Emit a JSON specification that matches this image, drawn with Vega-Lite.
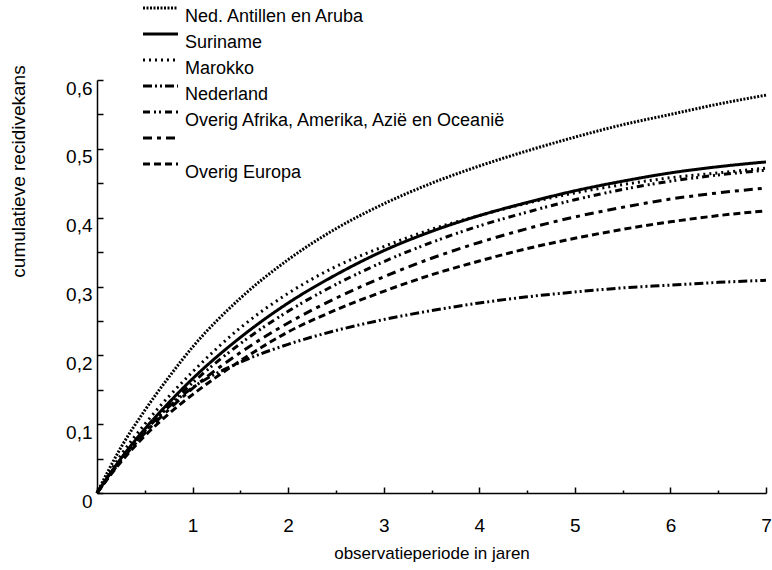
{
  "$schema": "https://vega.github.io/schema/vega-lite/v6.json",
  "width": 669,
  "height": 413,
  "autosize": {"type": "none"},
  "padding": {"left": 97, "top": 80, "right": 6, "bottom": 77},
  "background": "white",
  "config": {
    "view": {"stroke": null},
    "font": "Liberation Sans",
    "axis": {"labelFont": "Liberation Sans", "titleFont": "Liberation Sans", "titleFontWeight": "normal", "labelColor": "black", "titleColor": "black", "domainColor": "black", "tickColor": "black", "domainWidth": 1.5, "tickWidth": 1.5, "grid": false}
  },
  "data": {
    "values": [
      {"t": 0, "kans": 0, "groep": "Ned. Antillen en Aruba"},
      {"t": 0.25, "kans": 0.066, "groep": "Ned. Antillen en Aruba"},
      {"t": 0.5, "kans": 0.12, "groep": "Ned. Antillen en Aruba"},
      {"t": 0.75, "kans": 0.168, "groep": "Ned. Antillen en Aruba"},
      {"t": 1, "kans": 0.212, "groep": "Ned. Antillen en Aruba"},
      {"t": 1.5, "kans": 0.283, "groep": "Ned. Antillen en Aruba"},
      {"t": 2, "kans": 0.339, "groep": "Ned. Antillen en Aruba"},
      {"t": 2.5, "kans": 0.384, "groep": "Ned. Antillen en Aruba"},
      {"t": 3, "kans": 0.42, "groep": "Ned. Antillen en Aruba"},
      {"t": 3.5, "kans": 0.45, "groep": "Ned. Antillen en Aruba"},
      {"t": 4, "kans": 0.475, "groep": "Ned. Antillen en Aruba"},
      {"t": 4.5, "kans": 0.497, "groep": "Ned. Antillen en Aruba"},
      {"t": 5, "kans": 0.517, "groep": "Ned. Antillen en Aruba"},
      {"t": 5.5, "kans": 0.535, "groep": "Ned. Antillen en Aruba"},
      {"t": 6, "kans": 0.55, "groep": "Ned. Antillen en Aruba"},
      {"t": 6.5, "kans": 0.565, "groep": "Ned. Antillen en Aruba"},
      {"t": 7, "kans": 0.578, "groep": "Ned. Antillen en Aruba"},
      {"t": 0, "kans": 0, "groep": "Suriname"},
      {"t": 0.25, "kans": 0.05, "groep": "Suriname"},
      {"t": 0.5, "kans": 0.093, "groep": "Suriname"},
      {"t": 0.75, "kans": 0.131, "groep": "Suriname"},
      {"t": 1, "kans": 0.166, "groep": "Suriname"},
      {"t": 1.5, "kans": 0.226, "groep": "Suriname"},
      {"t": 2, "kans": 0.276, "groep": "Suriname"},
      {"t": 2.5, "kans": 0.317, "groep": "Suriname"},
      {"t": 3, "kans": 0.352, "groep": "Suriname"},
      {"t": 3.5, "kans": 0.38, "groep": "Suriname"},
      {"t": 4, "kans": 0.403, "groep": "Suriname"},
      {"t": 4.5, "kans": 0.422, "groep": "Suriname"},
      {"t": 5, "kans": 0.439, "groep": "Suriname"},
      {"t": 5.5, "kans": 0.453, "groep": "Suriname"},
      {"t": 6, "kans": 0.465, "groep": "Suriname"},
      {"t": 6.5, "kans": 0.474, "groep": "Suriname"},
      {"t": 7, "kans": 0.481, "groep": "Suriname"},
      {"t": 0, "kans": 0, "groep": "Marokko"},
      {"t": 0.25, "kans": 0.055, "groep": "Marokko"},
      {"t": 0.5, "kans": 0.1, "groep": "Marokko"},
      {"t": 0.75, "kans": 0.14, "groep": "Marokko"},
      {"t": 1, "kans": 0.176, "groep": "Marokko"},
      {"t": 1.5, "kans": 0.24, "groep": "Marokko"},
      {"t": 2, "kans": 0.29, "groep": "Marokko"},
      {"t": 2.5, "kans": 0.329, "groep": "Marokko"},
      {"t": 3, "kans": 0.358, "groep": "Marokko"},
      {"t": 3.5, "kans": 0.383, "groep": "Marokko"},
      {"t": 4, "kans": 0.403, "groep": "Marokko"},
      {"t": 4.5, "kans": 0.421, "groep": "Marokko"},
      {"t": 5, "kans": 0.436, "groep": "Marokko"},
      {"t": 5.5, "kans": 0.448, "groep": "Marokko"},
      {"t": 6, "kans": 0.458, "groep": "Marokko"},
      {"t": 6.5, "kans": 0.465, "groep": "Marokko"},
      {"t": 7, "kans": 0.472, "groep": "Marokko"},
      {"t": 0, "kans": 0, "groep": "Nederland"},
      {"t": 0.25, "kans": 0.048, "groep": "Nederland"},
      {"t": 0.5, "kans": 0.09, "groep": "Nederland"},
      {"t": 0.75, "kans": 0.125, "groep": "Nederland"},
      {"t": 1, "kans": 0.153, "groep": "Nederland"},
      {"t": 1.5, "kans": 0.19, "groep": "Nederland"},
      {"t": 2, "kans": 0.216, "groep": "Nederland"},
      {"t": 2.5, "kans": 0.236, "groep": "Nederland"},
      {"t": 3, "kans": 0.252, "groep": "Nederland"},
      {"t": 3.5, "kans": 0.265, "groep": "Nederland"},
      {"t": 4, "kans": 0.276, "groep": "Nederland"},
      {"t": 4.5, "kans": 0.285, "groep": "Nederland"},
      {"t": 5, "kans": 0.292, "groep": "Nederland"},
      {"t": 5.5, "kans": 0.298, "groep": "Nederland"},
      {"t": 6, "kans": 0.302, "groep": "Nederland"},
      {"t": 6.5, "kans": 0.306, "groep": "Nederland"},
      {"t": 7, "kans": 0.309, "groep": "Nederland"},
      {"t": 0, "kans": 0, "groep": "Overig Afrika, Amerika, Azië en Oceanië"},
      {"t": 0.25, "kans": 0.049, "groep": "Overig Afrika, Amerika, Azië en Oceanië"},
      {"t": 0.5, "kans": 0.09, "groep": "Overig Afrika, Amerika, Azië en Oceanië"},
      {"t": 0.75, "kans": 0.127, "groep": "Overig Afrika, Amerika, Azië en Oceanië"},
      {"t": 1, "kans": 0.16, "groep": "Overig Afrika, Amerika, Azië en Oceanië"},
      {"t": 1.5, "kans": 0.217, "groep": "Overig Afrika, Amerika, Azië en Oceanië"},
      {"t": 2, "kans": 0.264, "groep": "Overig Afrika, Amerika, Azië en Oceanië"},
      {"t": 2.5, "kans": 0.303, "groep": "Overig Afrika, Amerika, Azië en Oceanië"},
      {"t": 3, "kans": 0.336, "groep": "Overig Afrika, Amerika, Azië en Oceanië"},
      {"t": 3.5, "kans": 0.364, "groep": "Overig Afrika, Amerika, Azië en Oceanië"},
      {"t": 4, "kans": 0.388, "groep": "Overig Afrika, Amerika, Azië en Oceanië"},
      {"t": 4.5, "kans": 0.408, "groep": "Overig Afrika, Amerika, Azië en Oceanië"},
      {"t": 5, "kans": 0.426, "groep": "Overig Afrika, Amerika, Azië en Oceanië"},
      {"t": 5.5, "kans": 0.441, "groep": "Overig Afrika, Amerika, Azië en Oceanië"},
      {"t": 6, "kans": 0.453, "groep": "Overig Afrika, Amerika, Azië en Oceanië"},
      {"t": 6.5, "kans": 0.462, "groep": "Overig Afrika, Amerika, Azië en Oceanië"},
      {"t": 7, "kans": 0.469, "groep": "Overig Afrika, Amerika, Azië en Oceanië"},
      {"t": 0, "kans": 0, "groep": ""},
      {"t": 0.25, "kans": 0.047, "groep": ""},
      {"t": 0.5, "kans": 0.087, "groep": ""},
      {"t": 0.75, "kans": 0.121, "groep": ""},
      {"t": 1, "kans": 0.152, "groep": ""},
      {"t": 1.5, "kans": 0.204, "groep": ""},
      {"t": 2, "kans": 0.247, "groep": ""},
      {"t": 2.5, "kans": 0.283, "groep": ""},
      {"t": 3, "kans": 0.314, "groep": ""},
      {"t": 3.5, "kans": 0.341, "groep": ""},
      {"t": 4, "kans": 0.364, "groep": ""},
      {"t": 4.5, "kans": 0.384, "groep": ""},
      {"t": 5, "kans": 0.401, "groep": ""},
      {"t": 5.5, "kans": 0.415, "groep": ""},
      {"t": 6, "kans": 0.427, "groep": ""},
      {"t": 6.5, "kans": 0.436, "groep": ""},
      {"t": 7, "kans": 0.443, "groep": ""},
      {"t": 0, "kans": 0, "groep": "Overig Europa"},
      {"t": 0.25, "kans": 0.045, "groep": "Overig Europa"},
      {"t": 0.5, "kans": 0.083, "groep": "Overig Europa"},
      {"t": 0.75, "kans": 0.115, "groep": "Overig Europa"},
      {"t": 1, "kans": 0.143, "groep": "Overig Europa"},
      {"t": 1.5, "kans": 0.192, "groep": "Overig Europa"},
      {"t": 2, "kans": 0.234, "groep": "Overig Europa"},
      {"t": 2.5, "kans": 0.266, "groep": "Overig Europa"},
      {"t": 3, "kans": 0.293, "groep": "Overig Europa"},
      {"t": 3.5, "kans": 0.317, "groep": "Overig Europa"},
      {"t": 4, "kans": 0.337, "groep": "Overig Europa"},
      {"t": 4.5, "kans": 0.355, "groep": "Overig Europa"},
      {"t": 5, "kans": 0.37, "groep": "Overig Europa"},
      {"t": 5.5, "kans": 0.383, "groep": "Overig Europa"},
      {"t": 6, "kans": 0.394, "groep": "Overig Europa"},
      {"t": 6.5, "kans": 0.403, "groep": "Overig Europa"},
      {"t": 7, "kans": 0.41, "groep": "Overig Europa"}
    ]
  },
  "mark": {"type": "line", "color": "black", "strokeWidth": 3, "interpolate": "monotone", "strokeCap": "butt"},
  "encoding": {
    "x": {
      "field": "t", "type": "quantitative",
      "scale": {"domain": [0, 7], "nice": false, "zero": true},
      "axis": {
        "title": "observatieperiode in jaren",
        "titleFontSize": 17, "titleY": 60, "titleBaseline": "middle",
        "values": [0, 0.5, 1, 1.5, 2, 2.5, 3, 3.5, 4, 4.5, 5, 5.5, 6, 6.5, 7],
        "labelExpr": "datum.value % 1 === 0 && datum.value > 0 ? format(datum.value, 'd') : ''",
        "labelFontSize": 19, "labelBaseline": "middle", "labelPadding": 38,
        "tickSize": {"condition": {"test": "datum.value % 1 !== 0", "value": -3}, "value": -6},
        "labelFlush": false, "labelOverlap": false
      }
    },
    "y": {
      "field": "kans", "type": "quantitative",
      "scale": {"domain": [0, 0.6], "nice": false},
      "axis": {
        "title": "cumulatieve recidivekans",
        "titleFontSize": 19, "titleX": -79, "titleY": 91, "titleBaseline": "middle", "titleAngle": -90,
        "values": [0, 0.05, 0.1, 0.15, 0.2, 0.25, 0.3, 0.35, 0.4, 0.45, 0.5, 0.55, 0.6],
        "labelExpr": "datum.value === 0 ? '0' : (round(datum.value * 100) % 10 === 0 ? replace(format(datum.value, '.1f'), '.', ',') : '')",
        "labelFontSize": 19, "labelPadding": 11, "labelOffset": 8, "labelBaseline": "middle",
        "tickSize": -6, "labelFlush": false, "labelOverlap": false
      }
    },
    "strokeDash": {
      "field": "groep", "type": "nominal",
      "scale": {
        "domain": ["Ned. Antillen en Aruba", "Suriname", "Marokko", "Nederland", "Overig Afrika, Amerika, Azië en Oceanië", "", "Overig Europa"],
        "range": [[2, 1.5], [1, 0], [2, 4], [9, 3, 2, 3, 2, 3], [7, 4, 2, 3, 2, 4], [9, 5, 4, 5], [7, 4]]
      },
      "legend": {
        "title": null, "orient": "none", "legendX": 40, "legendY": -72,
        "padding": 0, "symbolType": "M-1,-3H10.67", "symbolSize": 36, "symbolStrokeWidth": 3,
        "symbolStrokeColor": "black", "symbolFillColor": "transparent", "labelFont": "Liberation Sans", "labelFontSize": 18,
        "labelBaseline": "middle", "labelOffset": 30, "rowPadding": 2, "labelColor": "black", "labelLimit": 500
      }
    }
  }
}
